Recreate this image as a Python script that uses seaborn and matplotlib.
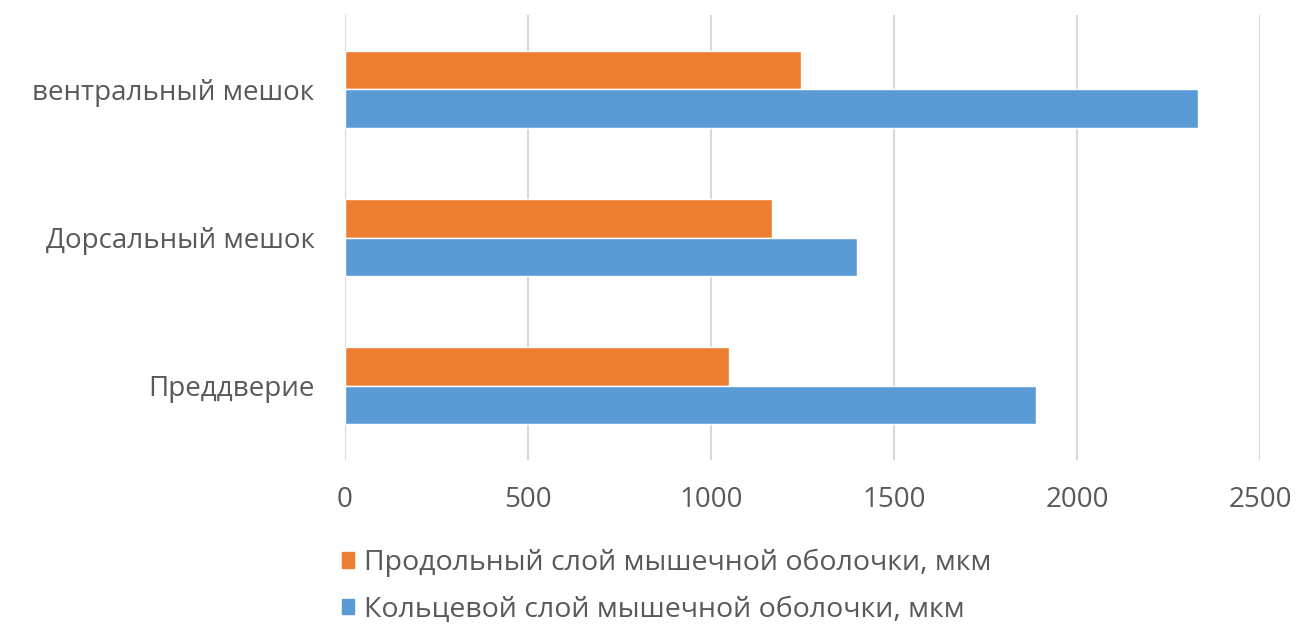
import pandas as pd
import matplotlib
matplotlib.use("Agg")
import matplotlib.pyplot as plt
import seaborn as sns

# Data
categories = ["вентральный мешок", "Дорсальный мешок", "Преддверие"]
series_names = ["Продольный слой мышечной оболочки, мкм",
                "Кольцевой слой мышечной оболочки, мкм"]
longitudinal = [1245, 1167, 1050]
circular = [2330, 1400, 1888]
x_ticks = [0, 500, 1000, 1500, 2000, 2500]

colors = ["#ED7D31", "#5B9BD5"]
text_color = "#595959"

sns.set_theme(style="white")
plt.rcParams["font.family"] = ["Open Sans", "DejaVu Sans"]

df = pd.DataFrame({
    "category": categories * 2,
    "series": [series_names[0]] * 3 + [series_names[1]] * 3,
    "value": longitudinal + circular,
})

fig = plt.figure(figsize=(13.1, 6.28), dpi=100)
ax = fig.add_axes([0.2634, 0.2675, 0.6984, 0.7085])

sns.barplot(data=df, x="value", y="category", hue="series",
            order=categories, hue_order=series_names,
            palette=colors, width=0.52, saturation=1, ax=ax, legend=False)

ax.set_xlim(0, 2500)
ax.set_xticks(x_ticks)
ax.set_xlabel("")
ax.set_ylabel("")
ax.grid(axis="x", color="#d9d9d9", linewidth=1.5)
ax.set_axisbelow(True)
for s in ax.spines.values():
    s.set_visible(False)
ax.tick_params(axis="x", length=0, pad=18.5, labelsize=20, labelcolor=text_color)
ax.tick_params(axis="y", length=0, pad=22, labelsize=20, labelcolor=text_color)

handles = [plt.Rectangle((0, 0), 1, 1, color=c) for c in colors]
fig.legend(handles, series_names, loc="upper left",
           bbox_to_anchor=(0.252, 0.144), frameon=False, fontsize=20.5,
           labelcolor=text_color, handlelength=0.45, handleheight=0.45,
           handletextpad=0.35, labelspacing=0.65, borderaxespad=0)

fig.savefig("out.png", dpi=100)
